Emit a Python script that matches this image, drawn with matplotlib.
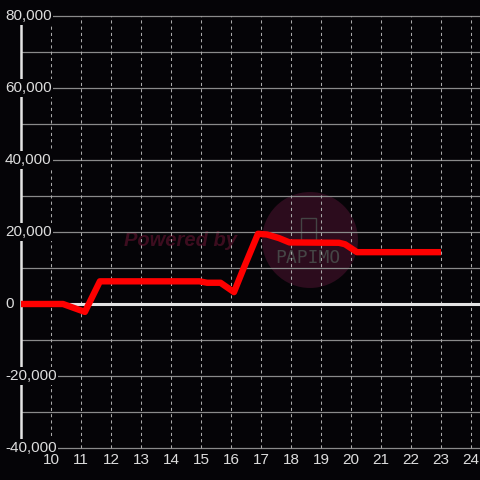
import matplotlib
matplotlib.use("Agg")
import matplotlib.pyplot as plt
import matplotlib.transforms as mtransforms
from matplotlib.patches import Circle, Rectangle
import numpy as np

# ---- data ----
hours = [9.0, 10.4, 11.13, 11.63, 14.95, 15.2, 15.65, 16.1, 16.4, 16.9, 17.2, 17.6, 17.95,
         19.6, 19.8, 20.2, 23.0]
values = [0, 0, -2200, 6300, 6300, 5900, 5900, 3300, 9500, 19500, 19300, 18300, 17100,
          17000, 16600, 14400, 14400]
x_ticks = list(range(10, 25))
y_ticks = [80000, 60000, 40000, 20000, 0, -20000, -40000]
y_tick_labels = ["80,000", "60,000", "40,000", "20,000", "0", "-20,000", "-40,000"]
y_grid = list(range(-40000, 80001, 10000))

bg = "#050407"
txt = "#dddddd"
font = "Liberation Sans"

fig = plt.figure(figsize=(4.8, 4.8), dpi=100, facecolor=bg)
ax = fig.add_axes([0, 0, 1, 1])
ax.set_facecolor(bg)
ax.set_xlim(8.3, 24.3)
ax.set_ylim(-48889, 84444)
ax.axis("off")

ft = fig.transFigure
# watermark (below grid)
ax.add_patch(Circle((310 / 480, 1 - 240 / 480), 48 / 480, transform=ft,
                    facecolor="#2c0c1d", edgecolor="none", zorder=0.2))
ax.add_patch(Rectangle((301 / 480, 1 - 240 / 480), 15 / 480, 22 / 480, transform=ft,
                       facecolor="none", edgecolor="#444444", lw=1.0, zorder=0.3))
ax.text(308 / 480, 1 - 258 / 480, "PAPIMO", transform=ft, ha="center", va="center",
        fontsize=13, family="DejaVu Sans Mono", color="#454545", zorder=0.3)
ax.text(181 / 480, 1 - 241 / 480, "Powered by", transform=ft, ha="center", va="center",
        fontsize=14.5, family=font, weight="bold", style="italic", color="#3d0d1f", zorder=0.3)

# grid
ax.hlines(y_grid, 9, 24.3, color="#8a8a8a", lw=0.9, zorder=1)
ax.vlines(x_ticks, -40000, 80000, color="#aaaaaa", lw=0.75, linestyles=(0, (3, 3)), zorder=1)
ax.hlines(0, 9, 24.3, color="#e4e4e4", lw=2.2, zorder=2)
ax.vlines(9, -40000, 80000, color="#e4e4e4", lw=1.8, zorder=2)

# data line
ax.plot(hours, values, color="#ff0000", lw=4.6, solid_joinstyle="round",
        solid_capstyle="butt", zorder=4)

# y labels
ytr = mtransforms.blended_transform_factory(ax.transAxes, ax.transData)
for v, lab in zip(y_ticks, y_tick_labels):
    ax.text(5 / 480, v, lab, transform=ytr, ha="left", va="center", fontsize=11,
            family=font, color=txt, zorder=5,
            bbox=dict(boxstyle="square,pad=0.12", fc=bg, ec="none"))

# x labels
xtr = ax.get_xaxis_transform()
for xv in x_ticks:
    ax.text(xv, 1 - 460.5 / 480, str(xv), transform=xtr, ha="center", va="center",
            fontsize=11, family=font, color=txt, zorder=5)

fig.savefig("out.png", dpi=100, facecolor=bg)
